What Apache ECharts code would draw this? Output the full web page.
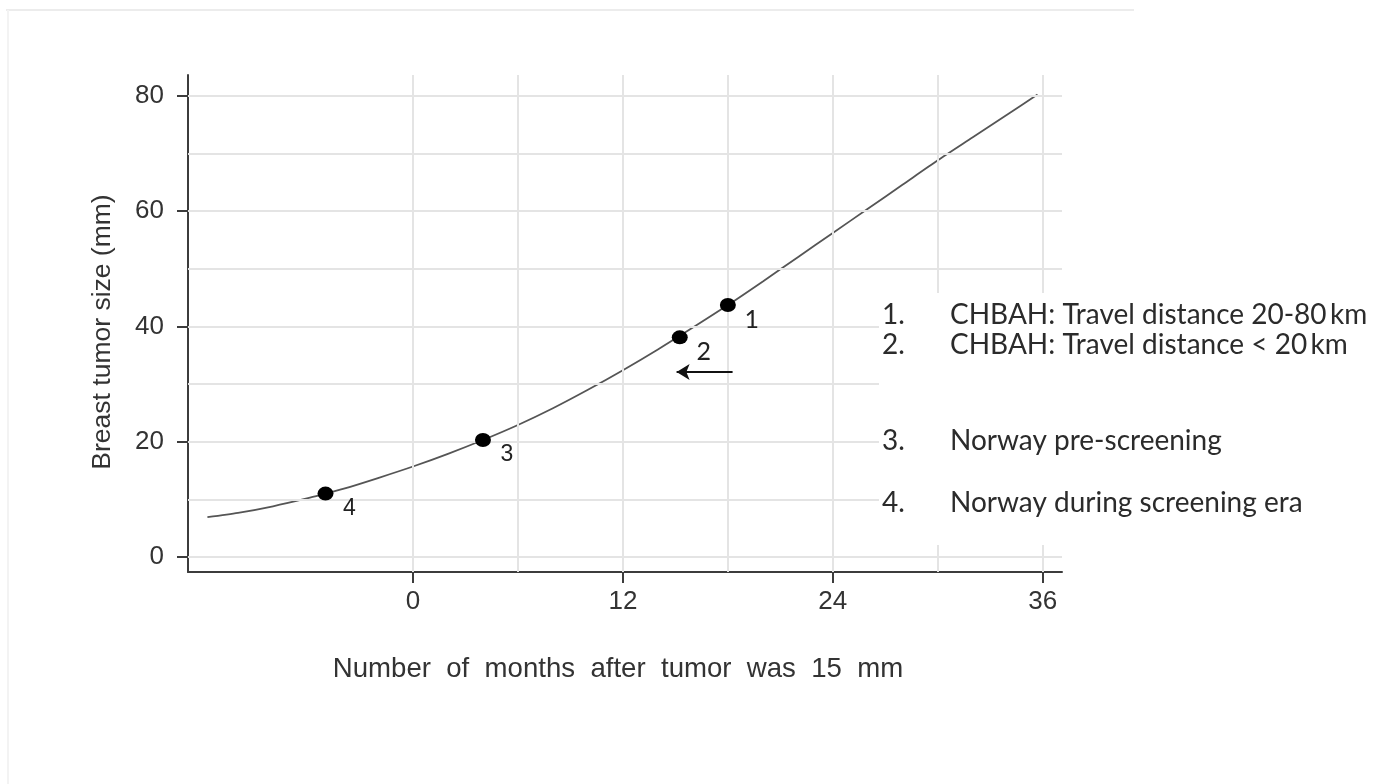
<!DOCTYPE html>
<html>
<head>
<meta charset="utf-8">
<title>Breast tumor growth</title>
<script src="https://cdn.jsdelivr.net/npm/echarts@6/dist/echarts.min.js"></script>
<style>
  html, body { margin: 0; padding: 0; background: #ffffff; }
  #chart { width: 1376px; height: 784px; }
</style>
</head>
<body>
<div id="chart"></div>
<script>
// Growth curve: tumor size (mm) against months after the tumor reached 15 mm
const curveMonths = [-11.75, -10, -8, -6, -5, -4, -2, 0, 2, 4, 6, 8, 10, 12, 14, 16, 18, 20, 22, 24, 26, 28, 30, 32, 34, 35.7];
const curveSizes  = [6.9, 7.65, 8.8, 10.2, 11.0, 11.8, 13.7, 15.7, 17.9, 20.3, 22.9, 25.8, 29.0, 32.4, 36.0, 39.8, 43.7, 47.8, 52.0, 56.2, 60.4, 64.6, 68.8, 72.8, 76.8, 80.2];

// Marked cohorts on the curve
const pointIds    = ['1', '2', '3', '4'];
const pointMonths = [18, 15.25, 4, -5];
const pointSizes  = [43.7, 38.1, 20.3, 11.0];

// Axis ticks and grid lines
const xTickValues = [0, 12, 24, 36];
const yTickValues = [0, 20, 40, 60, 80];
const xGridValues = [0, 6, 12, 18, 24, 30, 36];
const yGridValues = [0, 10, 20, 30, 40, 50, 60, 70, 80];

// Arrow showing the shift from cohort 1 towards cohort 2
const arrowFromMonth = 18.27;
const arrowToMonth = 15.07;
const arrowSize = 32.1;

// Key text
const keyNumbers = ['1.', '2.', '3.', '4.'];
const keyTexts = [
  'CHBAH: Travel distance 20-80\u2009km',
  'CHBAH: Travel distance < 20\u2009km',
  'Norway pre-screening',
  'Norway during screening era'
];

const xTitle = 'Number  of  months  after  tumor  was  15  mm';
const yTitle = 'Breast tumor size (mm)';

const axisFont = 'Liberation Sans, Arial, sans-serif';
const keyFont = 'Lato, Noto Sans, sans-serif';

const curveData = curveMonths.map((m, i) => [m, curveSizes[i]]);
const pointData = pointIds.map((id, i) => ({
  value: [pointMonths[i], pointSizes[i]],
  name: id,
  label: i < 2 ? { fontFamily: keyFont, fontSize: 25 } : { fontFamily: axisFont, fontSize: 23 }
}));

const gridLineData = [
  ...xGridValues.map(v => ({ xAxis: v })),
  ...yGridValues.map(v => ({ yAxis: v }))
];

// Key block: white panel with numbered entries
const keyRows = [315, 345, 441, 503];
const keyGraphic = [
  { type: 'rect', shape: { x: 879, y: 293, width: 497, height: 252 }, style: { fill: '#ffffff' }, z: 50, silent: true }
];
keyNumbers.forEach((n, i) => {
  keyGraphic.push({
    type: 'text', x: 882, y: keyRows[i], z: 51, silent: true,
    style: { text: n, font: '28px ' + keyFont, fill: '#2b2b2b', textVerticalAlign: 'middle' }
  });
  keyGraphic.push({
    type: 'text', x: 950, y: keyRows[i], z: 51, silent: true,
    style: { text: keyTexts[i], font: '28px ' + keyFont, fill: '#2b2b2b', textVerticalAlign: 'middle' }
  });
});

// Axis titles
const titleGraphic = [
  {
    type: 'text', x: 618, y: 669, silent: true,
    style: { text: xTitle, font: '27.6px ' + axisFont, fill: '#333333', textAlign: 'center', textVerticalAlign: 'middle' }
  },
  {
    type: 'text', x: 103, y: 332, rotation: Math.PI / 2, silent: true,
    style: { text: yTitle, font: '26.5px ' + axisFont, fill: '#333333', textAlign: 'center', textVerticalAlign: 'middle' }
  }
];

// Faint frame along the top and left
const frameGraphic = [
  { type: 'line', shape: { x1: 6, y1: 10, x2: 1134, y2: 10 }, style: { stroke: '#ececec', lineWidth: 2 }, silent: true },
  { type: 'line', shape: { x1: 8, y1: 10, x2: 8, y2: 784 }, style: { stroke: '#f3f3f3', lineWidth: 2 }, silent: true }
];

const chart = echarts.init(document.getElementById('chart'), null, { renderer: 'canvas' });

chart.setOption({
  animation: false,
  backgroundColor: '#ffffff',
  grid: { left: 188, right: 314, top: 75, bottom: 212, containLabel: false },
  xAxis: {
    type: 'value',
    min: -12.86,
    max: 37.1,
    axisLine: { show: true, onZero: false, lineStyle: { color: '#3c3c3c', width: 2 } },
    axisTick: { show: true, customValues: xTickValues, length: 11, lineStyle: { color: '#3c3c3c', width: 2 } },
    axisLabel: { customValues: xTickValues, margin: 17, fontFamily: axisFont, fontSize: 26, color: '#333333' },
    splitLine: { show: false }
  },
  yAxis: {
    type: 'value',
    min: -2.6,
    max: 83.6,
    axisLine: { show: true, onZero: false, lineStyle: { color: '#3c3c3c', width: 2 } },
    axisTick: { show: true, customValues: yTickValues, length: 11, lineStyle: { color: '#3c3c3c', width: 2 } },
    axisLabel: { customValues: yTickValues, margin: 24, fontFamily: axisFont, fontSize: 26, color: '#333333' },
    splitLine: { show: false }
  },
  graphic: [...frameGraphic, ...titleGraphic, ...keyGraphic],
  series: [
    {
      // grid lines
      type: 'line',
      data: [],
      z: 1,
      silent: true,
      markLine: {
        silent: true,
        symbol: ['none', 'none'],
        label: { show: false },
        lineStyle: { color: '#e4e4e4', width: 2, type: 'solid' },
        emphasis: { disabled: true },
        data: gridLineData
      }
    },
    {
      type: 'line',
      data: curveData,
      smooth: 0.25,
      showSymbol: false,
      z: 3,
      lineStyle: { color: '#555555', width: 1.8 },
      markLine: {
        silent: true,
        symbol: ['none', 'arrow'],
        symbolSize: [12, 13],
        label: { show: false },
        lineStyle: { color: '#111111', width: 2.2, type: 'solid' },
        data: [[{ coord: [arrowFromMonth, arrowSize] }, { coord: [arrowToMonth, arrowSize] }]]
      }
    },
    {
      type: 'scatter',
      data: pointData,
      z: 5,
      symbol: 'circle',
      symbolSize: [16, 14],
      itemStyle: { color: '#000000', opacity: 1 },
      label: {
        show: true,
        position: 'inside',
        offset: [24, 15],
        formatter: p => p.name,
        color: '#222222'
      }
    }
  ]
});
</script>
</body>
</html>
